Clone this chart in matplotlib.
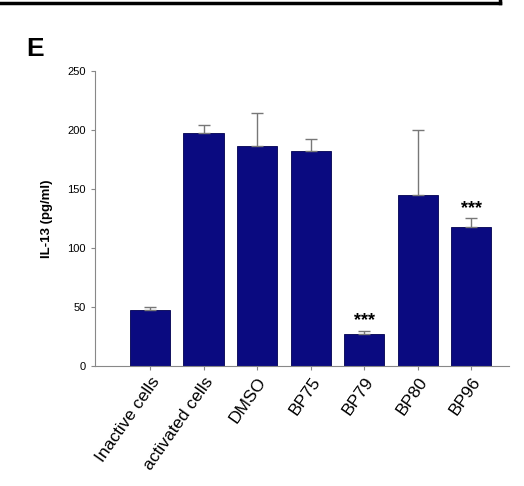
import matplotlib.pyplot as plt
from matplotlib.lines import Line2D

plt.rcParams['font.family'] = ['Liberation Sans', 'DejaVu Sans']

categories = ['Inactive cells', 'activated cells', 'DMSO', 'BP75', 'BP79', 'BP80', 'BP96']
values = [47, 197, 186, 182, 27, 145, 118]
errors = [3, 7, 28, 10, 3, 55, 7]
stars = ['', '', '', '', '***', '', '***']

fig = plt.figure(figsize=(5.24, 4.86), dpi=100)
ax = fig.add_axes([0.181, 0.247, 0.79, 0.607])

x = range(len(categories))
ax.bar(x, values, width=0.75, color='#0a0a80', edgecolor='#000050', linewidth=0.6, zorder=2)
ax.errorbar(x, values, yerr=[[0] * len(errors), errors], fmt='none',
            ecolor='#777777', elinewidth=1, capsize=4, zorder=3)
for i, s in enumerate(stars):
    if s:
        ax.text(i, values[i] + errors[i] + 1, s, ha='center', va='bottom',
                fontsize=13, fontweight='bold')

ax.set_ylim(0, 250)
ax.set_yticks(range(0, 251, 50))
ax.set_xlim(-1.03, 6.7)
ax.set_xticks(list(x))
ax.set_xticklabels(categories, rotation=55, ha='right', rotation_mode='anchor', fontsize=12.5)
ax.tick_params(axis='y', labelsize=8, length=3, color='#888888')
ax.tick_params(axis='x', length=3, pad=3, color='#888888')
ax.set_ylabel('IL-13 (pg/ml)', fontsize=9.5, fontweight='bold', labelpad=10)
for side in ['top', 'right']:
    ax.spines[side].set_visible(False)
for side in ['left', 'bottom']:
    ax.spines[side].set_color('#888888')

fig.text(0.05, 0.885, 'E', fontsize=19, fontweight='bold')
fig.add_artist(Line2D([0, 0.955], [0.994, 0.994], color='black', lw=2.5))
fig.add_artist(Line2D([0.955, 0.955], [0.994, 1.0], color='black', lw=2.5))

fig.savefig('out.png', dpi=100)
